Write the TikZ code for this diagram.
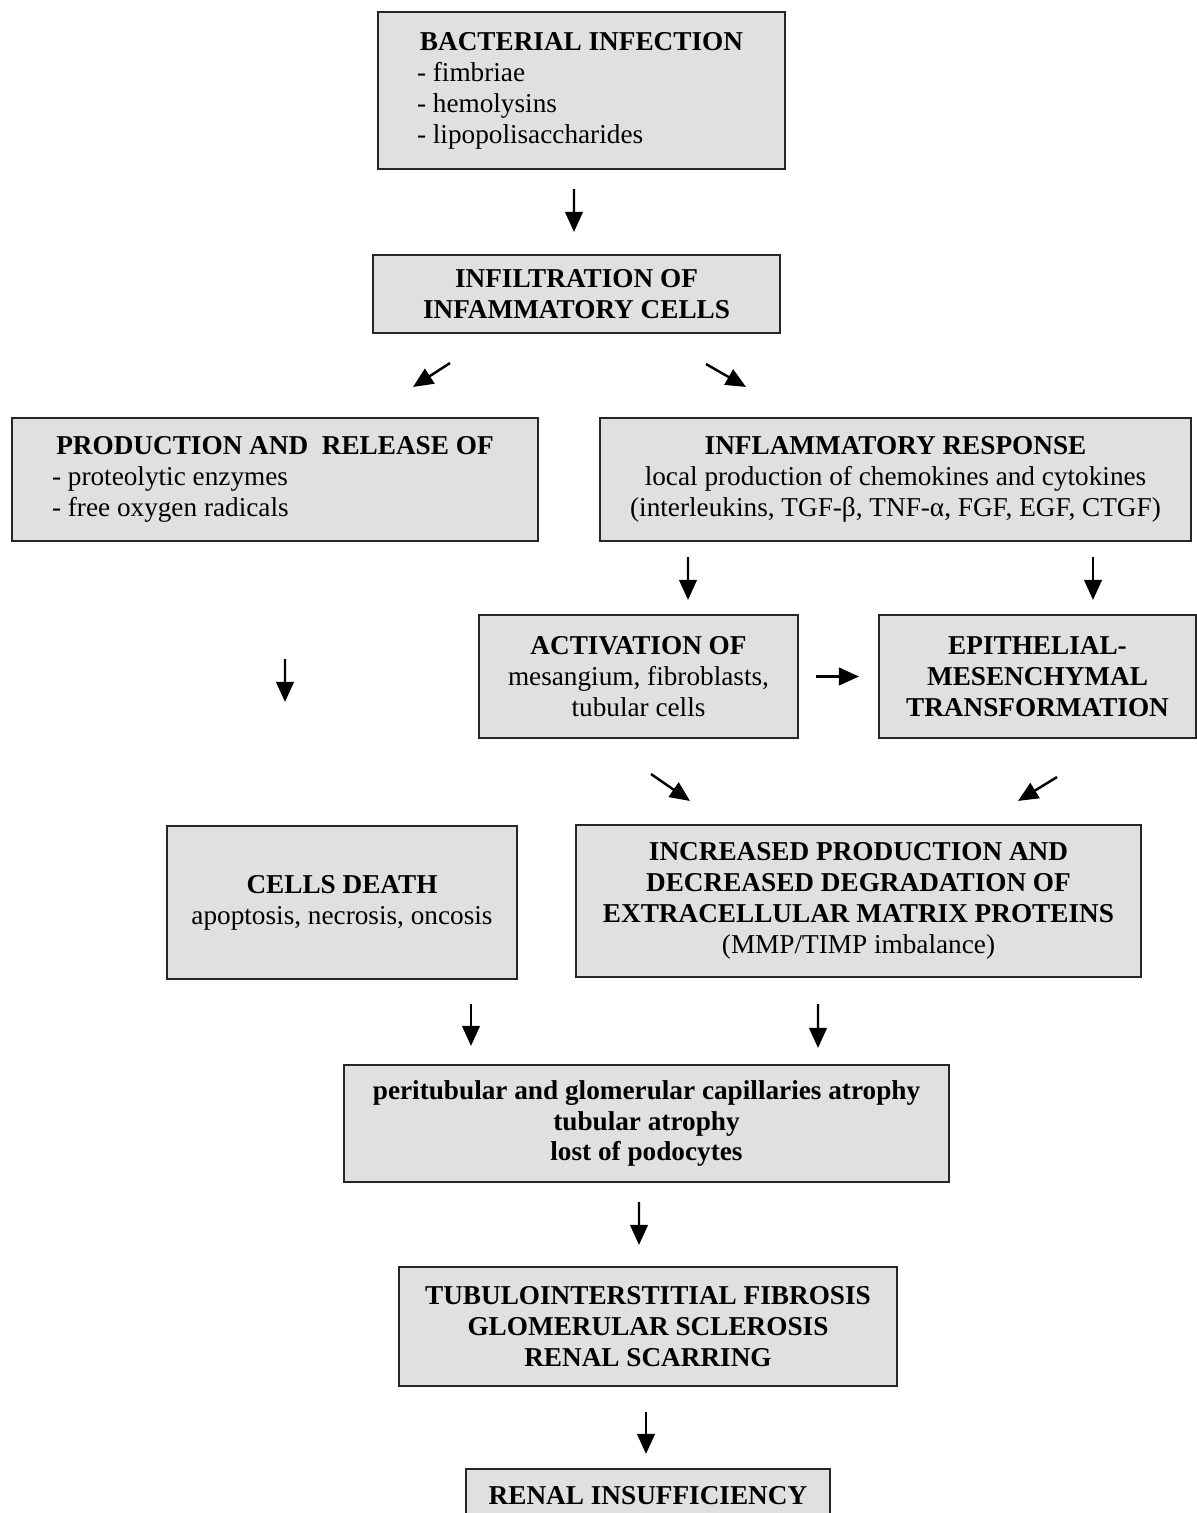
\documentclass[tikz,border=0pt]{standalone}
\usepackage{fontspec}
\setmainfont{Liberation Serif}
\usetikzlibrary{positioning}
\usetikzlibrary{arrows.meta}

\newcommand{\normspace}{\spaceskip=0pt\relax\xspaceskip=0pt\relax}

\tikzset{
	box/.style={draw=black!85, line width=1.2pt, fill=black!12, align=center, inner sep=0pt,
		font=\fontsize{15.5}{17.6}\selectfont},
	listbox/.style={box, align=left},
	arr/.style={line width=1.4pt, -{Triangle[length=0.40cm,width=0.35cm]}},
}

\begin{document}
\begin{tikzpicture}
	\useasboundingbox (0,0) rectangle (23.94,-30.26);
	% boxes
	\node[listbox, minimum width=8.14cm, minimum height=3.14cm, text width=6.58cm] (bact) at (11.63,-1.81)
		{\normspace{\centering\textbf{BACTERIAL INFECTION}\par}- fimbriae\\- hemolysins\\- lipopolisaccharides};
	\node[box, minimum width=8.14cm, minimum height=1.56cm] (infil) at (11.53,-5.88)
		{\textbf{INFILTRATION OF}\\\textbf{INFAMMATORY CELLS}};
	\node[listbox, minimum width=10.52cm, minimum height=2.46cm, text width=8.92cm] (prod) at (5.50,-9.59)
		{\normspace{\centering\textbf{PRODUCTION AND~ RELEASE OF}\par}- proteolytic enzymes\\- free oxygen radicals};
	\node[box, minimum width=11.82cm, minimum height=2.46cm] (infl) at (17.91,-9.59)
		{\textbf{INFLAMMATORY RESPONSE}\\local production of chemokines and cytokines\\(interleukins, TGF-β, TNF-α, FGF, EGF, CTGF)};
	\node[box, minimum width=6.38cm, minimum height=2.46cm] (activ) at (12.77,-13.53)
		{\textbf{ACTIVATION OF}\\mesangium, fibroblasts,\\tubular cells};
	\node[box, minimum width=6.34cm, minimum height=2.46cm] (emt) at (20.75,-13.53)
		{\textbf{EPITHELIAL-}\\\textbf{MESENCHYMAL}\\\textbf{TRANSFORMATION}};
	\node[box, minimum width=7.00cm, minimum height=3.06cm] (death) at (6.84,-18.05)
		{\textbf{CELLS DEATH}\\apoptosis, necrosis, oncosis};
	\node[box, minimum width=11.30cm, minimum height=3.04cm] (ecm) at (17.17,-18.02)
		{\textbf{INCREASED PRODUCTION AND}\\\textbf{DECREASED DEGRADATION OF}\\\textbf{EXTRACELLULAR MATRIX PROTEINS}\\(MMP/TIMP imbalance)};
	\node[box, minimum width=12.10cm, minimum height=2.34cm, font=\fontsize{15.5}{17.6}\selectfont\bfseries] (atro) at (12.93,-22.47)
		{peritubular and glomerular capillaries atrophy\\tubular atrophy\\lost of podocytes};
	\node[box, minimum width=9.96cm, minimum height=2.38cm, font=\fontsize{15.5}{17.6}\selectfont\bfseries] (fib) at (12.96,-26.53)
		{TUBULOINTERSTITIAL FIBROSIS\\GLOMERULAR SCLEROSIS\\RENAL SCARRING};
	\node[box, minimum width=7.28cm, minimum height=1.08cm] (ins) at (12.96,-29.92)
		{\textbf{RENAL INSUFFICIENCY}};
	% arrows
	\draw[arr] ([shift={(-0.15,-0.38)}]bact.south) -- ([shift={(-0.05,0.44)}]infil.north);
	\draw[arr] ([shift={(-2.53,-0.58)}]infil.south) -- ([shift={(2.76,0.60)}]prod.north);
	\draw[arr] ([shift={(2.59,-0.60)}]infil.south) -- ([shift={(-2.99,0.60)}]infl.north);
	\draw[arr] ([shift={(-4.15,-0.30)}]infl.south) -- ([shift={(0.99,0.28)}]activ.north);
	\draw[arr] ([shift={(3.95,-0.30)}]infl.south) -- ([shift={(1.11,0.28)}]emt.north);
	\draw[arr] ([xshift=0.34cm]activ.east) -- ([xshift=-0.38cm]emt.west);
	\draw[arr] ([shift={(0.20,-2.34)}]prod.south) -- ([shift={(-1.14,2.46)}]death.north);
	\draw[arr] ([shift={(0.25,-0.70)}]activ.south) -- ([shift={(-3.37,0.46)}]ecm.north);
	\draw[arr] ([shift={(0.39,-0.76)}]emt.south) -- ([shift={(3.19,0.46)}]ecm.north);
	\draw[arr] ([shift={(2.58,-0.48)}]death.south) -- ([shift={(-3.51,0.36)}]atro.north);
	\draw[arr] ([shift={(-0.81,-0.52)}]ecm.south) -- ([shift={(3.43,0.32)}]atro.north);
	\draw[arr] ([shift={(-0.15,-0.38)}]atro.south) -- ([shift={(-0.18,0.42)}]fib.north);
	\draw[arr] ([shift={(-0.04,-0.50)}]fib.south) -- ([shift={(-0.04,0.28)}]ins.north);
\end{tikzpicture}
\end{document}
